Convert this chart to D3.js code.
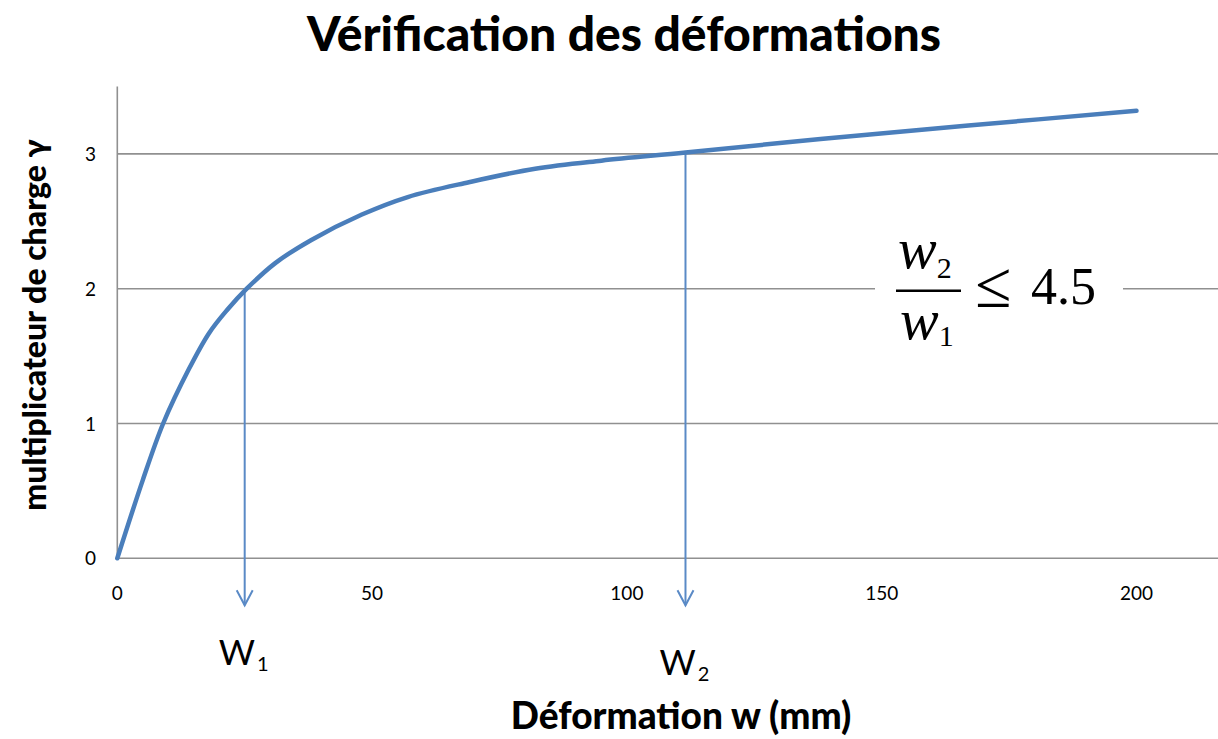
<!DOCTYPE html>
<html>
    <head>
        <meta charset="utf-8">
        <script type="text/javascript" src="https://cdn.jsdelivr.net/npm/d3@7/dist/d3.min.js"></script>
        <style>
            body { margin: 0; background: #fff; }
            svg { display: block; }
        </style>
    </head>
    <body>
        <svg></svg>

        <script>
            // data
            var deformation = [0, 5, 9, 14, 18, 21.5, 25.4, 31, 38, 48, 57, 69, 82, 95, 111.5, 138, 167, 200];
            var multiplier  = [0, 0.58, 1, 1.4, 1.67, 1.84, 2, 2.19, 2.36, 2.55, 2.68, 2.79, 2.89, 2.95, 3.01, 3.11, 3.21, 3.32];
            var xTicks = [0, 50, 100, 150, 200];
            var yTicks = [0, 1, 2, 3];
            var wValues = [25, 111.5];
            var wLevels = [2, 3];
            var wSubs = ["1", "2"];

            var w = 1218, h = 739;
            var blue = "#4a7ebb";

            var svg = d3.select("svg")
                    .attr("width", w)
                    .attr("height", h);

            var x = d3.scaleLinear().domain([0, 216]).range([117.3, 1218]);
            var y = d3.scaleLinear().domain([0, 3.5]).range([558.3, 86.5]);

            // gridlines
            svg.append("g")
                    .selectAll("line")
                    .data(yTicks)
                    .enter().append("line")
                    .attr("x1", x(0))
                    .attr("x2", x(216))
                    .attr("y1", function(d) { return y(d); })
                    .attr("y2", function(d) { return y(d); })
                    .attr("stroke", "#909090")
                    .attr("stroke-width", 1.6);

            // y axis line
            svg.append("line")
                    .attr("x1", x(0)).attr("x2", x(0))
                    .attr("y1", y(3.5)).attr("y2", y(0))
                    .attr("stroke", "#909090")
                    .attr("stroke-width", 1.6);

            // tick labels
            svg.append("g")
                    .selectAll("text")
                    .data(yTicks)
                    .enter().append("text")
                    .attr("x", 96)
                    .attr("y", function(d) { return y(d) + 7; })
                    .attr("text-anchor", "end")
                    .attr("font-family", "Lato, sans-serif")
                    .attr("font-size", 19)
                    .attr("fill", "#000")
                    .text(function(d) { return d; });

            svg.append("g")
                    .selectAll("text")
                    .data(xTicks)
                    .enter().append("text")
                    .attr("x", function(d) { return x(d); })
                    .attr("y", y(0) + 42)
                    .attr("text-anchor", "middle")
                    .attr("font-family", "Lato, sans-serif")
                    .attr("font-size", 19)
                    .attr("fill", "#000")
                    .text(function(d) { return d; });

            // arrows down to W1, W2
            var arrows = svg.append("g")
                    .selectAll("g")
                    .data(wValues)
                    .enter().append("g")
                    .attr("stroke", "#5a8ac6")
                    .attr("stroke-width", 2)
                    .attr("fill", "none");

            arrows.append("line")
                    .attr("x1", function(d) { return x(d); })
                    .attr("x2", function(d) { return x(d); })
                    .attr("y1", function(d, i) { return y(wLevels[i]); })
                    .attr("y2", y(0) + 47);

            arrows.append("path")
                    .attr("d", function(d) {
                        var cx = x(d), ty = y(0) + 47;
                        return "M" + (cx - 8) + "," + (ty - 15) + "L" + cx + "," + ty + "L" + (cx + 8) + "," + (ty - 15);
                    });

            // W labels
            var wl = svg.append("g")
                    .selectAll("text")
                    .data(wValues)
                    .enter().append("text")
                    .attr("x", function(d) { return x(d) - 26; })
                    .attr("y", function(d, i) { return 665 + i * 10; })
                    .attr("font-family", "Lato, sans-serif")
                    .attr("font-size", 35)
                    .attr("fill", "#000");
            wl.append("tspan").text("W");
            wl.append("tspan")
                    .attr("font-size", 20)
                    .attr("dy", 6)
                    .attr("dx", 2)
                    .text(function(d, i) { return wSubs[i]; });

            // the curve
            var line = d3.line()
                    .x(function(d, i) { return x(deformation[i]); })
                    .y(function(d) { return y(d); })
                    .curve(d3.curveCatmullRom.alpha(0.5));

            svg.append("path")
                    .datum(multiplier)
                    .attr("d", line)
                    .attr("fill", "none")
                    .attr("stroke", blue)
                    .attr("stroke-width", 4.5)
                    .attr("stroke-linecap", "round");

            // formula w2/w1 <= 4.5
            var fx = 896, fy = y(2);
            svg.append("rect")
                    .attr("x", 875).attr("y", fy - 50)
                    .attr("width", 248).attr("height", 110)
                    .attr("fill", "#fff");

            var serif = "'Liberation Serif', 'DejaVu Serif', serif";
            var num = svg.append("text")
                    .attr("x", fx + 2).attr("y", fy - 21)
                    .attr("font-family", serif)
                    .attr("font-size", 58);
            num.append("tspan").attr("font-style", "italic").text("w");
            num.append("tspan").attr("font-size", 30).attr("dy", 10).text("2");

            svg.append("line")
                    .attr("x1", fx).attr("x2", fx + 65)
                    .attr("y1", fy + 2).attr("y2", fy + 2)
                    .attr("stroke", "#000")
                    .attr("stroke-width", 2.5);

            var den = svg.append("text")
                    .attr("x", fx + 4).attr("y", fy + 50)
                    .attr("font-family", serif)
                    .attr("font-size", 58);
            den.append("tspan").attr("font-style", "italic").text("w");
            den.append("tspan").attr("font-size", 30).attr("dy", 7).text("1");

            svg.append("text")
                    .attr("x", 975).attr("y", fy + 18)
                    .attr("font-family", serif)
                    .attr("font-size", 66)
                    .text("≤");

            svg.append("text")
                    .attr("x", 1031).attr("y", fy + 15)
                    .attr("font-family", serif)
                    .attr("font-size", 52)
                    .text("4.5");

            // titles
            svg.append("text")
                    .attr("x", 624).attr("y", 51)
                    .attr("text-anchor", "middle")
                    .attr("font-family", "Lato, sans-serif")
                    .attr("font-weight", "900")
                    .attr("font-size", 48)
                    .text("Vérification des déformations");

            svg.append("text")
                    .attr("x", 681).attr("y", 729)
                    .attr("text-anchor", "middle")
                    .attr("font-family", "Lato, sans-serif")
                    .attr("font-weight", "900")
                    .attr("font-size", 37)
                    .text("Déformation w (mm)");

            svg.append("text")
                    .attr("transform", "translate(46,325) rotate(-90)")
                    .attr("text-anchor", "middle")
                    .attr("font-family", "Lato, sans-serif")
                    .attr("font-weight", "900")
                    .attr("font-size", 32)
                    .text("multiplicateur de charge γ");
        </script>
    </body>
</html>
